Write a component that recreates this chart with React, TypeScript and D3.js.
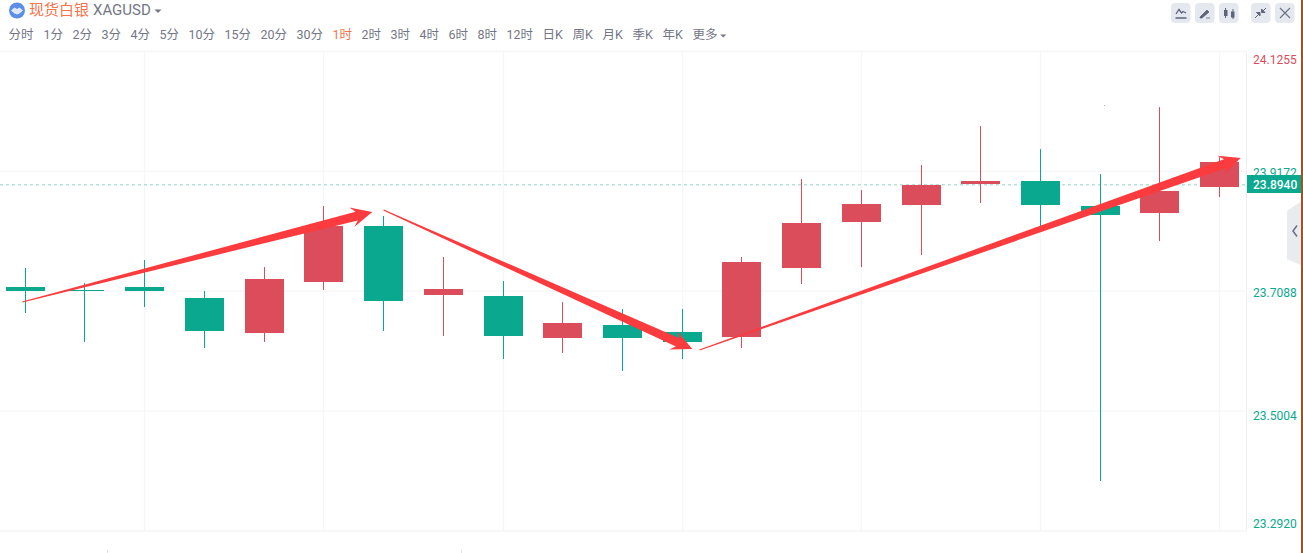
import React from "react";
import * as d3 from "d3";

const periods = ["分时","1分","2分","3分","4分","5分","10分","15分","20分","30分","1时","2时","3时","4时","6时","8时","12时","日K","周K","月K","季K","年K","更多"];
const activePeriod = "1时";
const yTicks = [24.1255, 23.9172, 23.7088, 23.5004, 23.292];
const lastPrice = 23.894;
const gridIndex = [2, 5, 8, 11, 14, 17, 20];

// open, close, high, low
const opens  = [23.7161,23.7109,23.7161,23.6970,23.6361,23.7248,23.8221,23.7022,23.7004,23.6274,23.6500,23.6379,23.6292,23.7491,23.8290,23.8586,23.8951,23.9003,23.8569,23.8447,23.8899];
const closes = [23.7091,23.7091,23.7091,23.6396,23.7300,23.8221,23.6917,23.7126,23.6309,23.6535,23.6274,23.6205,23.7595,23.8273,23.8603,23.8933,23.9003,23.8586,23.8412,23.8829,23.9333];
const highs  = [23.7491,23.7230,23.7630,23.7091,23.7508,23.8569,23.8395,23.7682,23.7265,23.6900,23.6778,23.6778,23.7682,23.9038,23.8847,23.9281,23.9959,23.9559,23.9125,24.0289,23.9420];
const lows   = [23.6709,23.6205,23.6813,23.6101,23.6205,23.7109,23.6396,23.6309,23.5909,23.6014,23.5701,23.5909,23.6101,23.7213,23.7508,23.7717,23.8621,23.8169,23.3789,23.7960,23.8725];

const arrowStartI = [-0.05, 6.0, 11.29];
const arrowStartP = [23.69, 23.8499, 23.6066];
const arrowEndI   = [5.81, 11.17, 20.35];
const arrowEndP   = [23.8464, 23.6083, 23.9403];

const W = 1303, H = 553;
const GREEN = "#0aa88e", RED = "#dc4d5c", ARROW = "#fb3b3d";
const GRID = "#f5f6f8", TEXT = "#737686", ACTIVE = "#f5734a";
const LABEL_FONT = "Roboto, 'Noto Sans CJK SC', sans-serif";

const x = d3.scaleLinear().domain([0, 20]).range([25.2, 1219.7]);
const y = d3.scaleLinear().domain([23.292, 24.1255]).range([531, 51.5]);
const snap = (v: number) => Math.floor(v) + 0.5;
const bodyW = 39;
const labelShift = [1 + 7.5, 2, 2, 4.5, -7.5];

function arrowPath(i: number) {
  const x0 = x(arrowStartI[i]), y0 = y(arrowStartP[i]);
  const x1 = x(arrowEndI[i]), y1 = y(arrowEndP[i]);
  const len = Math.hypot(x1 - x0, y1 - y0);
  const ux = (x1 - x0) / len, uy = (y1 - y0) / len;
  const nx = -uy, ny = ux;
  const at = (a: number, b: number): [number, number] => [x1 + ux * a + nx * b, y1 + uy * a + ny * b];
  const pts: [number, number][] = [
    [x0 + nx * 0.6, y0 + ny * 0.6],
    at(-16, 4.5),
    at(-21, 10),
    at(0, 0),
    at(-21, -10),
    at(-16, -4.5),
    [x0 - nx * 0.6, y0 - ny * 0.6],
  ];
  return d3.line()(pts) + "Z";
}

function periodLayout() {
  let cx = 8.5;
  return periods.map((p) => {
    let w = 0;
    for (const c of p) w += /[0-9]/.test(c) ? 7 : c === "K" ? 8 : 12.9;
    const item = { p, x: cx, w };
    cx += w + 9.1;
    return item;
  });
}

export default function App() {
  const layout = periodLayout();
  const last = layout[layout.length - 1];
  return (
    <svg width={W} height={H} viewBox={`0 0 ${W} ${H}`} style={{ position: "absolute", left: 0, top: 0, display: "block", background: "#fff" }}>
      {/* header */}
      <circle cx={17} cy={10.5} r={8} fill="#5b8ee6" />
      <path d="M11 10.5 L14.5 7.5 L17 9 L19.5 7.5 L23 10.5 L19.5 13.5 L17 14.5 L14.5 13.5 Z" fill="#dfe8fa" />
      <text x={29} y={15} fontSize={15} fill={ACTIVE} fontFamily="'Noto Sans CJK SC', sans-serif">现货白银</text>
      <text x={93} y={15} fontSize={15} fill={TEXT} fontFamily={LABEL_FONT}>XAGUSD</text>
      <path d="M154.5 9.5 L161.5 9.5 L158 13 Z" fill={TEXT} />
      {layout.map((l) => (
        <text key={l.p} x={l.x} y={38.5} fontSize={12.5} fill={l.p === activePeriod ? ACTIVE : TEXT} fontFamily={LABEL_FONT}>{l.p}</text>
      ))}
      <path d={`M${last.x + last.w + 2} 34.5 h6 l-3 3 Z`} fill={TEXT} />

      {/* toolbar buttons */}
      {[1171, 1195, 1219, 1251, 1275].map((bx) => (
        <rect key={bx} x={bx} y={3} width={19.5} height={20} rx={4} fill="#e6e8ef" />
      ))}
      <path d="M1176 14 L1179 9.5 L1181.5 13 L1183 11.5 L1186 13 M1175.5 18 H1186.5" fill="none" stroke="#5f6478" strokeWidth={1.3} />
      <path d="M1200 17 L1207 10 L1209 12 L1202 18 H1200 Z M1206 18 H1210" fill="#5f6478" stroke="#5f6478" strokeWidth={0.8} />
      <path d="M1225.5 8 V18 M1233 9 V19" stroke="#5f6478" strokeWidth={1} />
      <rect x={1224} y={10} width={3.5} height={6} fill="#5f6478" />
      <rect x={1231} y={11.5} width={3.5} height={6} fill="#5f6478" />
      <path d="M1255 18 L1259.5 13.5 M1256.5 12.5 L1260 12.5 L1260 16 Z M1266 8 L1262 12 M1261.5 9 V12.5 H1265 Z" stroke="#5f6478" strokeWidth={1} fill="#5f6478" />
      <path d="M1280 8 L1290 18 M1290 8 L1280 18" stroke="#6f7386" strokeWidth={1.2} fill="none" />

      {/* grid */}
      {yTicks.map((t) => (
        <line key={t} x1={0} x2={1246} y1={y(t)} y2={y(t)} stroke={GRID} strokeWidth={1.3} />
      ))}
      {gridIndex.map((i) => (
        <line key={i} x1={snap(x(i))} x2={snap(x(i))} y1={y(yTicks[0])} y2={y(yTicks[4])} stroke={GRID} strokeWidth={1.3} />
      ))}
      <line x1={1246.5} x2={1246.5} y1={51.5} y2={531} stroke="#f0f1f4" />

      {/* last-price line */}
      <line x1={0} x2={1246} y1={y(lastPrice)} y2={y(lastPrice)} stroke="#b5e2d9" strokeWidth={1.5} strokeDasharray="3 3" />

      {/* candles */}
      {opens.map((o, i) => {
        const c = closes[i];
        const col = c > o ? RED : GREEN;
        const top = Math.round(Math.min(y(o), y(c)));
        const h = Math.max(1, Math.round(Math.abs(y(o) - y(c))));
        const cx = snap(x(i));
        return (
          <g key={i}>
            <line x1={cx} x2={cx} y1={y(highs[i])} y2={y(lows[i])} stroke={col} strokeWidth={1} />
            <rect x={cx - bodyW / 2} y={top} width={bodyW} height={h} fill={col} />
          </g>
        );
      })}

      {/* annotations */}
      {arrowStartI.map((_, i) => (
        <path key={i} d={arrowPath(i)} fill={ARROW} />
      ))}

      {/* stray specks in the source */}
      <rect x={1104} y={105} width={1} height={1} fill="#b8b8b8" />
      <rect x={107} y={550} width={1} height={3} fill="#e4e4e4" />
      <rect x={461} y={550} width={1} height={3} fill="#e4e4e4" />

      {/* y labels */}
      {yTicks.map((t, i) => (
        <text key={t} x={1253} y={y(t) + labelShift[i] + 4} fontSize={12} fill={i === 0 ? RED : GREEN} fontFamily={LABEL_FONT}>{t.toFixed(4)}</text>
      ))}
      <rect x={1247} y={175} width={56} height={18} fill={GREEN} />
      <text x={1253} y={189} fontSize={12} fontWeight={500} fill="#fff" fontFamily={LABEL_FONT}>{lastPrice.toFixed(4)}</text>

      {/* side tab */}
      <path d="M1287 211 L1303 200 V266 L1287 259 Z" fill="#eaebef" />
      <path d="M1297 225.5 L1293 231 L1297 236.5" fill="none" stroke="#6f7386" strokeWidth={1.6} />
      <rect x={1301} y={0} width={2} height={H} fill="#a0521f" />
    </svg>
  );
}
